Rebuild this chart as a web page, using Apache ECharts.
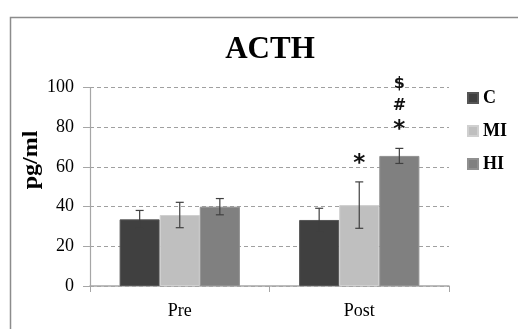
<!DOCTYPE html>
<html><head><meta charset="utf-8">
<script src="https://cdn.jsdelivr.net/npm/echarts@6/dist/echarts.min.js"></script>
<style>html,body{margin:0;padding:0;background:#fff}#c{width:518px;height:329px}</style>
</head><body><div id="c"></div>
<script>
var categories = ['Pre', 'Post'];
var groups = ['C', 'MI', 'HI'];
var colors = ['#404040', '#bfbfbf', '#808080'];
var valuesC = [33.6, 33.3];
var valuesMI = [35.8, 40.8];
var valuesHI = [40.0, 65.6];
var errC = [4.5, 5.9];
var errMI = [6.4, 11.7];
var errHI = [4.1, 3.8];
// annotations: [categoryIndex, groupIndex, value position, text]
var annotations = [
  [1, 1, 61.5, '*'],
  [1, 2, 78.5, '*'],
  [1, 2, 91.0, '#'],
  [1, 2, 102.0, '$']
];
var yTicks = [0, 20, 40, 60, 80, 100];

var values = [valuesC, valuesMI, valuesHI];
var errs = [errC, errMI, errHI];
var CAT_GAP = 0.33;
var serif = '"Liberation Serif", "Times New Roman", serif';

function barOffset(api, g) {
  var band = api.size([1, 0])[0];
  var bw = band * (1 - CAT_GAP) / 3;
  return (g - 1) * bw;
}

var series = [];
groups.forEach(function (name, g) {
  series.push({
    name: name, type: 'bar', data: values[g], barGap: '0%', barCategoryGap: (CAT_GAP * 100) + '%',
    itemStyle: { color: colors[g], borderColor: g === 0 ? '#555' : (g === 1 ? '#d0d0d0' : '#909090'), borderWidth: 1 },
    z: 2
  });
});
groups.forEach(function (name, g) {
  series.push({
    type: 'custom', silent: true, z: 5,
    data: categories.map(function (c, i) { return [i, values[g][i], errs[g][i]]; }),
    renderItem: function (params, api) {
      var i = api.value(0), v = api.value(1), e = api.value(2);
      var off = barOffset(api, g);
      var top = api.coord([i, v + e]);
      var bot = api.coord([i, v - e]);
      var x = top[0] + off;
      var cw = 4;
      var st = { stroke: '#404040', lineWidth: 1.2 };
      return { type: 'group', children: [
        { type: 'line', shape: { x1: x, y1: top[1], x2: x, y2: bot[1] }, style: st },
        { type: 'line', shape: { x1: x - cw, y1: top[1], x2: x + cw, y2: top[1] }, style: st },
        { type: 'line', shape: { x1: x - cw, y1: bot[1], x2: x + cw, y2: bot[1] }, style: st }
      ]};
    }
  });
});
series.push({
  type: 'custom', silent: true, z: 6, clip: false,
  data: annotations,
  renderItem: function (params, api) {
    var i = api.value(0), g = api.value(1), v = api.value(2);
    var t = annotations[params.dataIndex][3];
    var p = api.coord([i, v]);
    var x = p[0] + barOffset(api, g);
    return { type: 'text', x: x, y: p[1], style: {
      text: t, fill: '#111', align: 'center', verticalAlign: 'middle',
      font: (t === '*' ? 'bold 23px' : 'bold 16px') + ' "DejaVu Sans", sans-serif'
    }};
  }
});

var chart = echarts.init(document.getElementById('c'), null, { renderer: 'canvas' });
chart.setOption({
  animation: false,
  backgroundColor: '#fff',
  graphic: [
    { type: 'rect', left: 8, top: 15, shape: { width: 540, height: 340 }, style: { fill: 'none', stroke: '#8c8c8c', lineWidth: 1.5 }, z: -1 },
    { type: 'text', x: 32, y: 160, rotation: Math.PI / 2, scaleX: 1.2,
      style: { text: 'pg/ml', align: 'center', verticalAlign: 'middle', fill: '#000',
        font: 'bold 20px "Liberation Serif", "Times New Roman", serif' } }
  ],
  title: { text: 'ACTH', left: 265, top: 29, textAlign: 'center',
    textStyle: { fontFamily: serif, fontSize: 31, fontWeight: 'bold', color: '#000' } },
  legend: {
    orient: 'vertical', left: 467, top: 89, padding: 0, itemWidth: 10, itemHeight: 10, itemGap: 15,
    icon: 'rect', data: groups,
    textStyle: { fontFamily: serif, fontSize: 18, fontWeight: 'bold', color: '#000' }
  },
  grid: { left: 90, right: 69, top: 87.7, bottom: 43 },
  xAxis: {
    type: 'category', data: categories,
    axisLine: { lineStyle: { color: '#a6a6a6', width: 1.5 } },
    axisTick: { show: true, length: 6, lineStyle: { color: '#a6a6a6' } },
    axisLabel: { fontFamily: serif, fontSize: 18, color: '#000', margin: 16 }
  },
  yAxis: {
    type: 'value', min: 0, max: 100, interval: 20,
    axisLine: { show: true, lineStyle: { color: '#a6a6a6', width: 1.2 } },
    axisTick: { show: true, length: 7, lineStyle: { color: '#a6a6a6' } },
    axisLabel: { fontFamily: serif, fontSize: 18, color: '#000', margin: 16,
      formatter: function (v) { return yTicks.indexOf(v) >= 0 ? String(v) : ''; } },
    splitLine: { lineStyle: { color: '#a0a0a0', type: [4, 3], width: 1 } }
  },
  series: series
});
</script></body></html>
